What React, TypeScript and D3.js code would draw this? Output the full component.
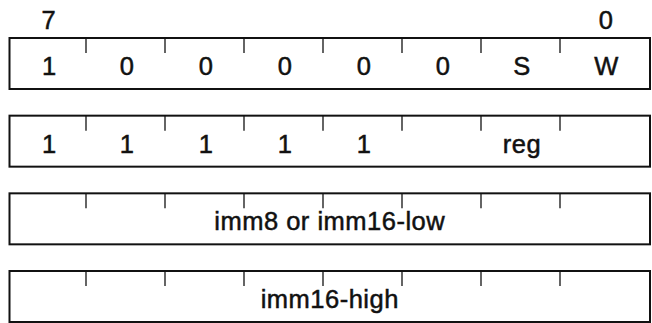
import React from "react";
import * as d3 from "d3";

const headerBits = ["7", "0"];
const headerCells = [0, 7];
const row1Labels = ["1", "0", "0", "0", "0", "0", "S", "W"];
const row2Labels = ["1", "1", "1", "1", "1", "", "reg", ""];
const row3Label = "imm8 or imm16-low";
const row4Label = "imm16-high";
const rows = [row1Labels, row2Labels, [row3Label], [row4Label]];
const tickCells = [1, 2, 3, 4, 5, 6, 7];

const W = 652;
const H = 323;

export default function App() {
  const x = d3.scaleLinear().domain([0, 1, 7, 8]).range([9.5, 86, 560, 650]);
  const y = d3.scaleLinear().domain([0, 3]).range([38, 271]);
  const rowH = 51;
  const tickLen = 15;
  const fontSize = 25.5;
  const textStyle: React.CSSProperties = {
    fontFamily: "'Liberation Sans', Arial, Helvetica, sans-serif",
    fontSize,
    letterSpacing: 0.5,
  };
  const ink = "#111";
  const cx = (i: number) => (x(i) + x(i + 1)) / 2;

  return (
    <svg
      width={W}
      height={H}
      style={{ position: "absolute", left: 0, top: 0, background: "#fff" }}
    >
      {headerBits.map((b, i) => (
        <text
          key={"h" + i}
          x={cx(headerCells[i]) + 1}
          y={29}
          textAnchor="middle"
          fill={ink}
          stroke={ink}
          strokeWidth={0.5}
          style={textStyle}
        >
          {b}
        </text>
      ))}
      {rows.map((labels, r) => {
        const top = y(r);
        return (
          <g key={"r" + r}>
            <rect
              x={x(0)}
              y={top}
              width={x(8) - x(0)}
              height={rowH}
              fill="none"
              stroke={ink}
              strokeWidth={2}
            />
            {tickCells.map((t) => (
              <line
                key={"t" + t}
                x1={x(t)}
                x2={x(t)}
                y1={top}
                y2={top + tickLen}
                stroke={ink}
                strokeWidth={1.3}
              />
            ))}
            {labels.length === 8
              ? labels.map((l, i) => (
                  <text
                    key={"l" + i}
                    x={cx(i) + 1.5}
                    y={top + 37}
                    textAnchor="middle"
                    fill={ink}
                    stroke={ink}
                    strokeWidth={0.5}
                    style={textStyle}
                  >
                    {l}
                  </text>
                ))
              : (
                  <text
                    x={(x(0) + x(8)) / 2}
                    y={top + 37}
                    textAnchor="middle"
                    fill={ink}
                    stroke={ink}
                    strokeWidth={0.5}
                    style={textStyle}
                  >
                    {labels[0]}
                  </text>
                )}
          </g>
        );
      })}
    </svg>
  );
}
